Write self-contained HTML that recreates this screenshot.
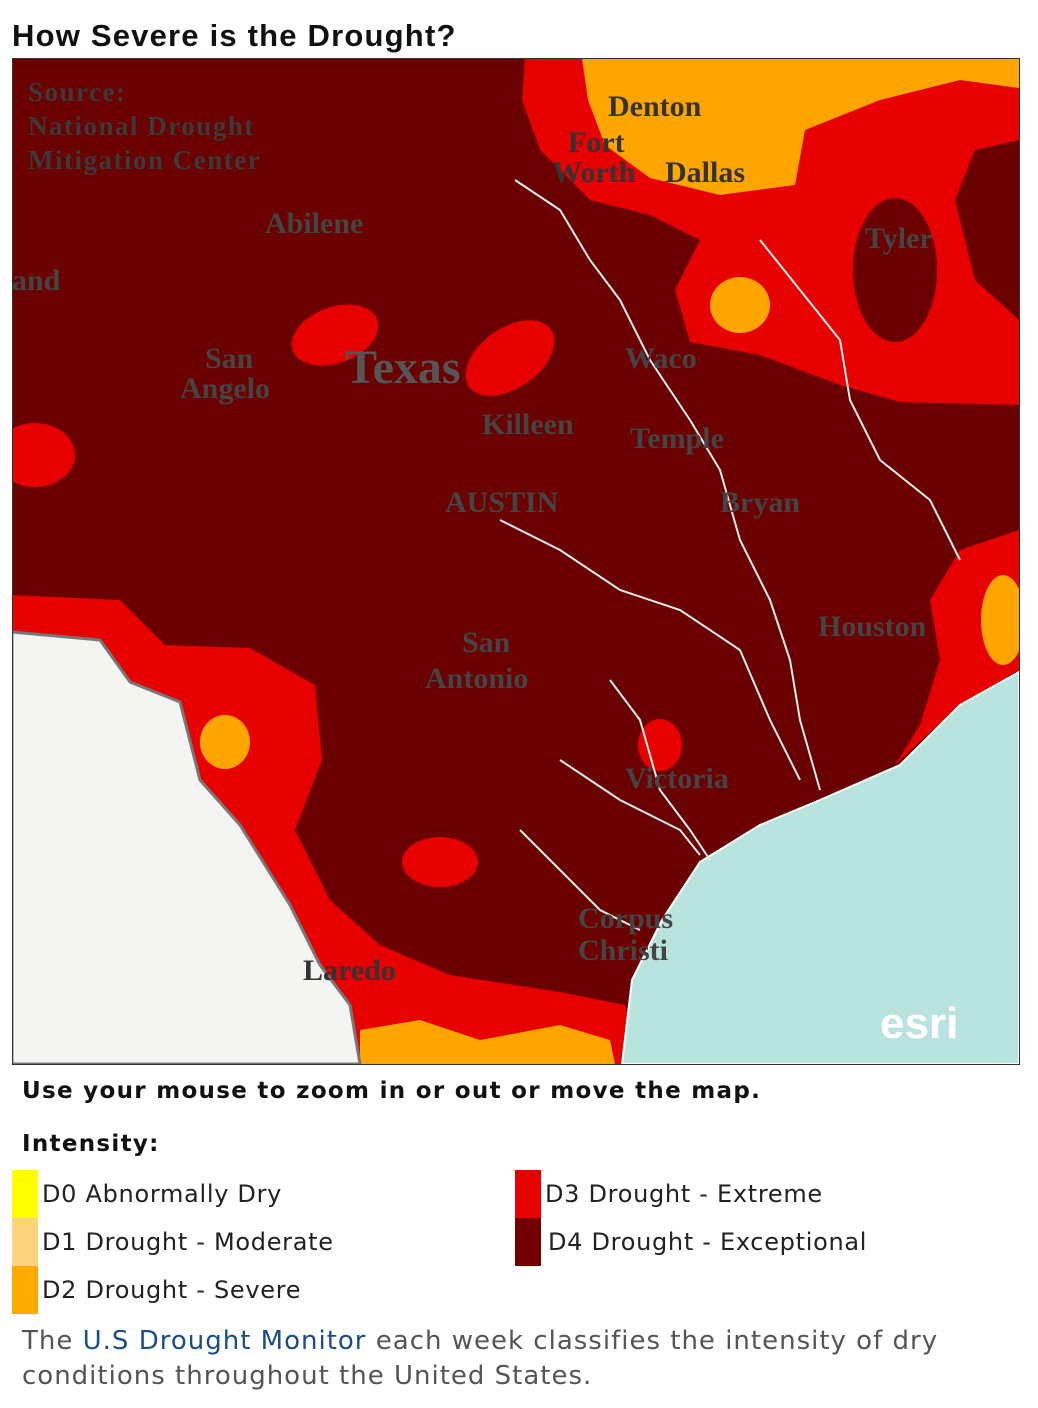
<!DOCTYPE html>
<html><head><meta charset="utf-8"><style>
body{margin:0;width:1038px;height:1408px;background:#fff;position:relative;overflow:hidden;font-family:"DejaVu Sans","Liberation Sans",sans-serif}
.a{position:absolute;white-space:nowrap}
.sw{position:absolute;width:26px;height:48px}
.lg{font-size:24px;color:#222;letter-spacing:0.7px}
</style></head><body>
<div class="a" style="left:12px;top:18px;font-family:'Liberation Sans',sans-serif;font-weight:bold;font-size:31px;letter-spacing:1.2px;color:#111">How Severe is the Drought?</div>
<svg class="a" style="left:12px;top:58px" width="1008" height="1007" viewBox="12 58 1008 1007">
<rect x="12" y="58" width="1008" height="1007" fill="#6b0000"/>
<path d="M525,58 L1019,58 L1019,405 L900,402 L840,385 L760,355 L690,342 L675,290 L700,240 L650,215 L590,200 L540,150 L522,100 Z" fill="#e60000"/>
<ellipse cx="895" cy="270" rx="42" ry="72" fill="#6b0000"/>
<path d="M1019,140 L975,150 L955,200 L975,280 L1019,320 Z" fill="#6b0000"/>
<path d="M582,58 L1019,58 L1019,88 L960,80 L880,100 L805,130 L795,185 L720,195 L650,178 L605,145 L588,100 Z" fill="#ffa500"/>
<ellipse cx="740" cy="305" rx="30" ry="28" fill="#ffa500"/>
<ellipse cx="335" cy="335" rx="45" ry="28" transform="rotate(-20 335 335)" fill="#e60000"/>
<ellipse cx="510" cy="358" rx="50" ry="30" transform="rotate(-35 510 358)" fill="#e60000"/>
<ellipse cx="35" cy="455" rx="40" ry="32" fill="#e60000"/>
<path d="M12,595 L120,600 L165,645 L250,648 L315,685 L322,760 L295,830 L330,900 L380,945 L450,975 L560,992 L625,1005 L640,1064 L12,1064 Z" fill="#e60000"/>
<ellipse cx="225" cy="742" rx="25" ry="27" fill="#ffa500"/>
<path d="M360,1030 L420,1020 L480,1040 L560,1025 L610,1040 L615,1064 L360,1064 Z" fill="#ffa500"/>
<path d="M12,632 L100,640 L130,682 L180,702 L200,780 L240,825 L290,905 L320,965 L350,1005 L360,1064 L12,1064 Z" fill="#f4f4f2" stroke="#777" stroke-width="3"/>
<ellipse cx="440" cy="862" rx="38" ry="25" fill="#e60000"/>
<ellipse cx="660" cy="745" rx="22" ry="26" fill="#e60000"/>
<path d="M1019,530 L960,550 L930,600 L940,660 L920,725 L895,765 L960,705 L1019,670Z" fill="#e60000"/>
<ellipse cx="1003" cy="620" rx="22" ry="45" fill="#ffa500"/>
<path d="M1019,672 L960,705 L900,765 L820,800 L760,825 L700,862 L662,920 L632,980 L622,1064 L1019,1064 Z" fill="#b9e3df" stroke="#fff" stroke-width="2"/>
<g fill="none" stroke="#eee" stroke-width="2">
<path d="M515,180 L560,210 L590,260 L620,300 L650,360 L690,420 L720,470 L740,540 L770,600 L790,660 L800,720 L820,790"/>
<path d="M760,240 L800,290 L840,340 L850,400 L880,460 L930,500 L960,560"/>
<path d="M500,520 L560,550 L620,590 L680,610 L740,650 L770,720 L800,780"/>
<path d="M610,680 L640,720 L660,790 L690,830 L710,860"/>
<path d="M560,760 L620,800 L680,830 L700,855"/>
<path d="M520,830 L560,870 L600,910 L640,930"/>
</g>
<g font-family="Liberation Serif,serif" font-weight="bold" fill="#333" font-size="30">
<text x="28" y="101" font-size="27" letter-spacing="1.5" fill="#3a3a3a">Source:</text>
<text x="28" y="135" font-size="27" letter-spacing="1.5" fill="#3a3a3a">National Drought</text>
<text x="28" y="169" font-size="27" letter-spacing="1.5" fill="#3a3a3a">Mitigation Center</text>
<text x="608" y="116" fill="#333">Denton</text>
<text x="568" y="152" fill="#333">Fort</text>
<text x="552" y="182" fill="#333">Worth</text>
<text x="665" y="182" fill="#333">Dallas</text>
<text x="265" y="233" fill="#444">Abilene</text>
<text x="865" y="248" fill="#444">Tyler</text>
<text x="205" y="368" fill="#444">San</text>
<text x="180" y="398" fill="#444">Angelo</text>
<text x="345" y="383" font-size="48" fill="#555">Texas</text>
<text x="625" y="368" fill="#444">Waco</text>
<text x="482" y="434" fill="#444">Killeen</text>
<text x="630" y="448" fill="#444">Temple</text>
<text x="445" y="512" fill="#444">AUSTIN</text>
<text x="720" y="512" fill="#444">Bryan</text>
<text x="818" y="636" fill="#444">Houston</text>
<text x="462" y="652" fill="#444">San</text>
<text x="425" y="688" fill="#444">Antonio</text>
<text x="625" y="788" fill="#444">Victoria</text>
<text x="578" y="928" fill="#444">Corpus</text>
<text x="578" y="960" fill="#444">Christi</text>
<text x="303" y="980" fill="#333">Laredo</text>
<text x="12" y="290" fill="#444">and</text>
</g>
<text x="880" y="1038" font-family="Liberation Sans,sans-serif" font-weight="bold" font-size="44" fill="#fff">esri</text>
</svg>
<div class="a" style="left:12px;top:58px;width:1006px;height:1005px;border:1px solid #333"></div>
<div class="a" style="left:22px;top:1078px;font-size:23px;font-weight:bold;color:#111;letter-spacing:1.3px">Use your mouse to zoom in or out or move the map.</div>
<div class="a" style="left:22px;top:1131px;font-size:23px;font-weight:bold;color:#111;letter-spacing:1.3px">Intensity:</div>
<div class="sw" style="left:12px;top:1170px;background:#ffff00"></div>
<div class="sw" style="left:12px;top:1218px;background:#fcd37f"></div>
<div class="sw" style="left:12px;top:1266px;background:#ffaa00"></div>
<div class="sw" style="left:515px;top:1170px;background:#e60000"></div>
<div class="sw" style="left:515px;top:1218px;background:#730000"></div>
<div class="a lg" style="left:42px;top:1180px">D0 Abnormally Dry</div>
<div class="a lg" style="left:42px;top:1228px">D1 Drought - Moderate</div>
<div class="a lg" style="left:42px;top:1276px">D2 Drought - Severe</div>
<div class="a lg" style="left:545px;top:1180px">D3 Drought - Extreme</div>
<div class="a lg" style="left:548px;top:1228px">D4 Drought - Exceptional</div>
<div class="a" style="left:22px;top:1324px;font-size:26px;color:#555;line-height:35px;letter-spacing:1px">The <span style="color:#1a4d8c">U.S Drought Monitor</span> each week classifies the intensity of dry<br>conditions throughout the United States.</div>
</body></html>
